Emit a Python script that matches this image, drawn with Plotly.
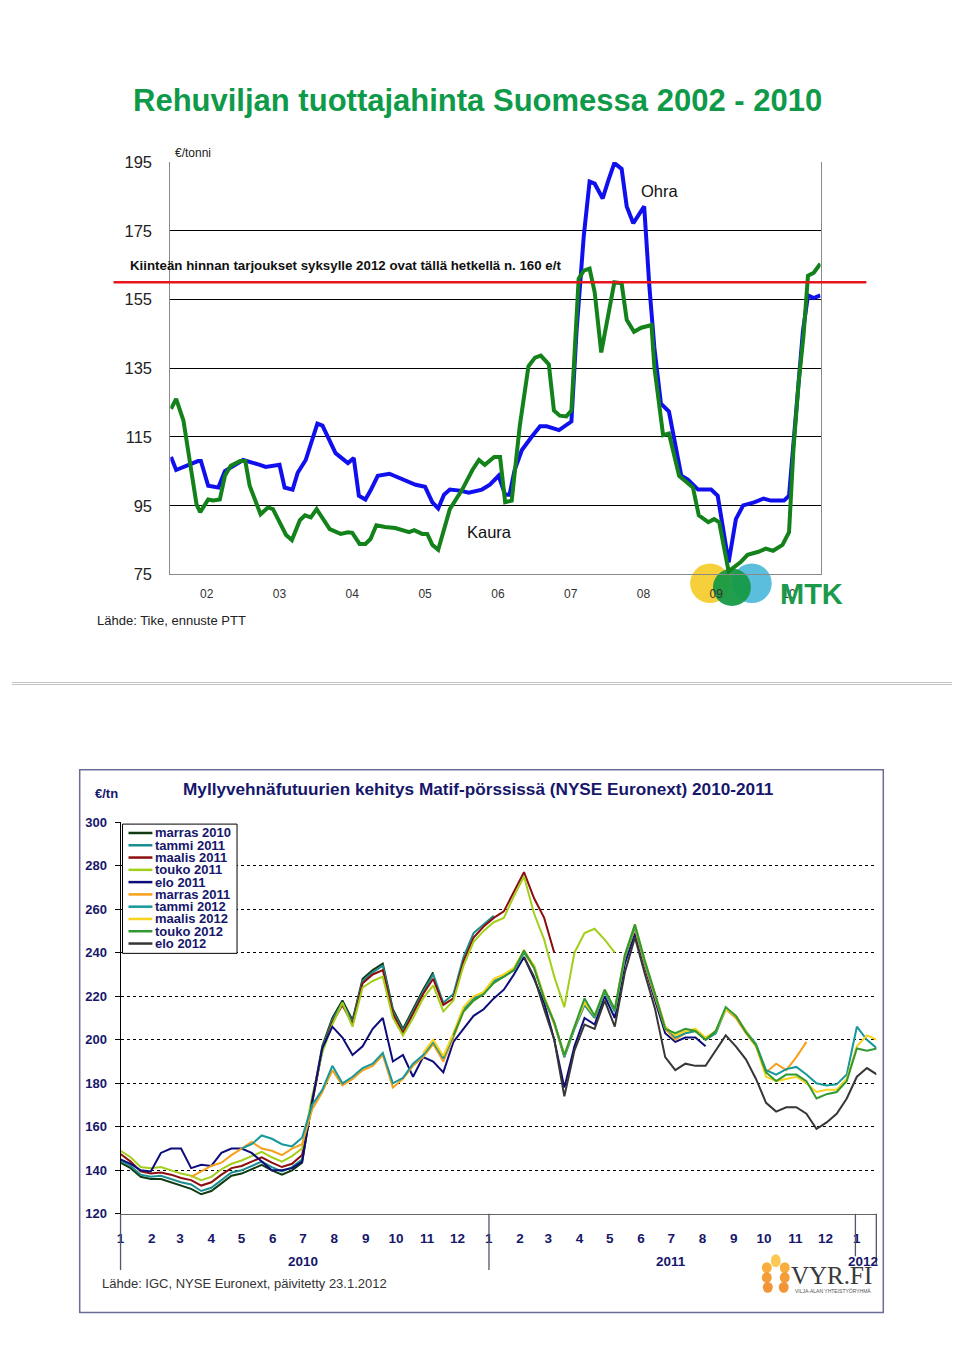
import pandas as pd
import plotly.graph_objects as go

# The page keeps the browser's default 8px body margin, so the figure is
# 16px smaller than the window and every reference pixel is shifted by 8.
PAGE_MARGIN = 8
W, H = 960 - 2 * PAGE_MARGIN, 1367 - 2 * PAGE_MARGIN


def fx(p):
    return (p - PAGE_MARGIN) / W


def fy(p):
    return 1 - (p - PAGE_MARGIN) / H


# ---------------- Chart 1: Rehuviljan tuottajahinta (€/t) ----------------
ohra_year = [2002.01, 2002.08, 2002.38, 2002.42, 2002.52, 2002.66, 2002.75, 2003.00, 2003.23, 2003.31,
             2003.50, 2003.57, 2003.68, 2003.75, 2003.86, 2004.02, 2004.09, 2004.27, 2004.44, 2004.52,
             2004.59, 2004.68, 2004.75, 2004.85, 2005.01, 2005.19, 2005.37, 2005.50, 2005.60, 2005.68,
             2005.76, 2005.84, 2005.98, 2006.10, 2006.28, 2006.39, 2006.51, 2006.60, 2006.66, 2006.73,
             2006.83, 2006.97, 2007.08, 2007.17, 2007.34, 2007.51, 2007.58, 2007.68, 2007.76, 2007.83,
             2007.94, 2008.02, 2008.10, 2008.20, 2008.27, 2008.36, 2008.51, 2008.58, 2008.65, 2008.74,
             2008.85, 2009.02, 2009.11, 2009.25, 2009.43, 2009.52, 2009.67, 2009.77, 2009.87, 2010.02,
             2010.15, 2010.25, 2010.43, 2010.50, 2010.56, 2010.66, 2010.69, 2010.76, 2010.84, 2010.93]
ohra_price = [109.2, 105.4, 108, 108, 100.8, 100.3, 105.1, 108.3, 106.9, 106.3,
              106.9, 100.3, 99.7, 104.6, 108.3, 118.9, 118.3, 110.3, 107.4, 108.9,
              97.9, 96.8, 99.4, 103.7, 104.3, 102.6, 101.1, 100.5, 96.0, 94.2,
              98.2, 99.7, 99.4, 98.8, 99.7, 101.1, 103.7, 98.2, 98.2, 105.4,
              111.2, 115.2, 118.1, 118.1, 117.0, 119.5, 145.6, 173.5, 189.3, 188.7,
              184.4, 189.8, 194.7, 193.0, 182.1, 177.2, 182.1, 159.1, 141, 124.7,
              122.4, 103.7, 102.6, 99.7, 99.7, 97.9, 78.5, 91.1, 95.1, 96.0,
              97.1, 96.5, 96.5, 97.9, 112.3, 135.3, 145.6, 156.2, 155.4, 156.2]

kaura_year = [2002.01, 2002.08, 2002.18, 2002.36, 2002.41, 2002.52, 2002.59, 2002.68, 2002.75, 2002.83,
              2002.96, 2003.03, 2003.09, 2003.24, 2003.34, 2003.41, 2003.59, 2003.67, 2003.78, 2003.85,
              2003.93, 2004.01, 2004.19, 2004.34, 2004.44, 2004.50, 2004.60, 2004.68, 2004.75, 2004.83,
              2004.95, 2005.09, 2005.28, 2005.35, 2005.46, 2005.53, 2005.60, 2005.68, 2005.84, 2005.91,
              2006.01, 2006.15, 2006.24, 2006.32, 2006.45, 2006.53, 2006.60, 2006.69, 2006.80, 2006.92,
              2007.01, 2007.09, 2007.20, 2007.27, 2007.35, 2007.44, 2007.51, 2007.61, 2007.68, 2007.76,
              2007.83, 2007.92, 2008.10, 2008.20, 2008.27, 2008.37, 2008.47, 2008.61, 2008.65, 2008.77,
              2008.85, 2008.99, 2009.18, 2009.26, 2009.39, 2009.47, 2009.54, 2009.67, 2009.84, 2009.93,
              2010.08, 2010.18, 2010.28, 2010.41, 2010.50, 2010.56, 2010.63, 2010.70, 2010.76, 2010.84,
              2010.93]
kaura_price = [123.2, 126.1, 119.8, 95.4, 93.1, 96.8, 96.5, 96.8, 103.7, 106.6,
               108, 108, 100.8, 92.5, 94.5, 94, 86.5, 85.0, 90.8, 92.2,
               91.6, 94, 88.2, 86.8, 87.3, 87.1, 83.9, 83.9, 85.3, 89.3,
               88.8, 88.5, 87.3, 87.9, 86.8, 86.8, 83.6, 82.2, 94, 96.5,
               99.7, 105.4, 108.3, 106.9, 109.2, 109.2, 96, 96.5, 118.1, 135.6,
               138.1, 138.7, 136.1, 122.7, 121.2, 121, 122.7, 161.1, 163.4, 164,
               157.1, 139.6, 160, 159.7, 149.1, 145.6, 146.8, 147.6, 135.3, 115.5,
               116, 103.7, 100.3, 92.2, 90.2, 91.1, 90.2, 75.9, 78.7, 80.7,
               81.6, 82.5, 81.9, 83.6, 87.3, 111.2, 130.4, 144.8, 161.9, 162.8,
               165.4]

year_ticks = [2002.5, 2003.5, 2004.5, 2005.5, 2006.5, 2007.5, 2008.5, 2009.5, 2010.5]
year_labels = ["02", "03", "04", "05", "06", "07", "08", "09", "10"]
price_ticks1 = [75, 95, 115, 135, 155, 175, 195]
offer_level = 160

# ---------------- Chart 2: Matif milling wheat futures (€/tn) ----------------
days = [0, 10, 20, 30, 40, 50, 60, 70, 80, 90, 100, 110, 120, 130, 140, 150, 160, 170, 180, 190,
        200, 210, 220, 230, 240, 250, 260, 270, 280, 290, 300, 310, 320, 330, 340, 350, 360, 370, 380, 390,
        400, 410, 420, 430, 440, 450, 460, 470, 480, 490, 500, 510, 520, 530, 540, 550, 560, 570, 580, 590,
        600, 610, 620, 630, 640, 650, 660, 670, 680, 690, 700, 710, 720, 730, 740, 750]

marras_2010 = [143.5, 141, 137, 136, 136, 134.5, 133, 131.5, 129, 130.5, 134, 137.5, 138.5, 140.5, 142.5, 140,
               138, 140, 143.5, 172, 197, 210, 218, 209, 228, 232, 235, 214, 205, 214, 223, 231]
tammi_2011 = [144.5, 142, 138, 137, 137.5, 136, 134.5, 133.5, 130.5, 132, 135.5, 139, 140, 142, 144, 141.5,
              139.5, 141.5, 145, 171, 196, 209, 217, 208, 227, 231, 234, 213, 204, 213, 222, 230, 217, 221,
              238, 249, 253, 257]
maalis_2011 = [147.5, 144, 139.5, 138.5, 139, 138, 136.5, 135.5, 133, 134.5, 138, 141, 142, 144, 146, 143.5,
               141.5, 143, 147, 171, 195, 208, 216, 207, 226, 230, 232, 212, 203, 212, 221, 228, 216, 219,
               236, 247, 252, 256, 259, 268, 277, 265, 256, 240]
touko_2011 = [149, 146, 141.5, 141, 141.5, 140, 138.5, 137.5, 135.5, 137, 140.5, 143, 144.5, 146.5, 148.5, 146,
              144, 146.5, 150, 174, 194, 207, 217, 206, 224, 227, 229, 210, 202, 210, 219, 225, 213, 218,
              234, 245, 250, 254, 256, 266, 275, 258, 246, 229, 215, 240, 249, 251, 246, 240]
elo_2011 = [145, 143, 140, 139.5, 148, 150, 150, 141, 142.5, 142, 148, 150, 150, 148, 144, 140,
            140, 141, 144, 172, 196, 206, 201, 193, 197, 205, 210, 190, 193, 183, 192, 190, 185, 199,
            205, 211, 214, 219, 223, 230, 238, 228, 217, 200, 178, 197, 210, 207, 220, 210, 235, 249,
            233, 218, 203, 199, 201, 201, 197]
marras_2011 = [137, 139.5, 142, 143.5, 147, 150, 153, 150, 149, 147, 150, 152,
               168, 176, 186, 179, 182, 186, 188, 193, 178, 182, 188, 192, 198, 190, 201, 213, 218, 221,
               227, 229, 232, 240, 233, 219, 207, 192, 205, 216, 210, 222, 213, 238, 251, 234, 219, 205,
               200, 203, 204, 200, 203, 214, 210, 203, 197, 185, 189, 186, 192, 199]
tammi_2012 = [150, 152, 156, 154.5, 152, 151, 155,
              170, 177, 188, 180, 183, 187, 189, 194, 180, 182.5, 189, 193, 199, 191.5, 202, 214, 219,
              221, 227, 229, 232, 240, 234, 219, 208, 192, 205, 216, 210, 222, 213, 238, 252, 235, 220,
              206, 201, 203, 204, 200, 203, 214, 211, 204, 198, 186, 184, 186.5, 187.5, 184, 180, 179,
              179.5, 184, 206, 200, 196]
maalis_2012 = [194, 200, 192.5, 203, 215, 220, 222, 228, 230, 233, 241, 234, 220, 208, 193, 206, 217,
               211, 223, 214, 239, 253, 236, 221, 206, 202, 204, 205, 201, 204, 214, 211, 204, 197, 183,
               181, 182, 183, 180, 176, 177, 177, 182, 197, 202, 200]
touko_2012 = [202, 213, 218, 221, 226, 229, 232, 241, 233, 219, 208, 193, 206, 219, 211, 223, 214, 239,
              253, 236, 221, 205, 203, 205, 204, 200, 204, 215, 211, 203.5, 197.5, 185, 181, 184, 184,
              181, 173, 175, 176, 181, 196, 195, 196]
elo_2012 = [238, 229, 214, 200, 174, 195, 207, 205, 218, 206, 231, 247, 230, 214, 192, 186, 189, 188,
            188, 195, 202, 197, 191, 182, 171, 167, 169, 169, 166, 159, 162, 166, 173, 183, 187, 184]

contract_names = ["marras 2010", "tammi 2011", "maalis 2011", "touko 2011", "elo 2011",
                  "marras 2011", "tammi 2012", "maalis 2012", "touko 2012", "elo 2012"]
contract_colors = ["#0f3a12", "#1b8e90", "#8b0d0d", "#a2cf1a", "#0c0c7a",
                   "#f7a01c", "#17989a", "#f8d21c", "#2f9a2f", "#363636"]
contract_start = [0, 0, 0, 0, 0, 70, 120, 300, 330, 400]
contract_values = [marras_2010, tammi_2011, maalis_2011, touko_2011, elo_2011,
                   marras_2011, tammi_2012, maalis_2012, touko_2012, elo_2012]
price_ticks2 = [120, 140, 160, 180, 200, 220, 240, 260, 280, 300]

base_date = pd.Timestamp("2010-01-01")
month_ticks = pd.date_range("2010-01-01", "2012-01-01", freq="MS")
month_labels = [str(m.month) for m in month_ticks]

NAVY = "#16166b"
FONT = "Arial, Liberation Sans, sans-serif"

fig = go.Figure()

fig.add_trace(go.Scatter(x=ohra_year, y=ohra_price, mode="lines", name="Ohra",
                         line=dict(color="#1010ee", width=4), xaxis="x", yaxis="y",
                         showlegend=False))
fig.add_trace(go.Scatter(x=kaura_year, y=kaura_price, mode="lines", name="Kaura",
                         line=dict(color="#13821a", width=4), xaxis="x", yaxis="y",
                         showlegend=False))

for name, color, start, vals in zip(contract_names, contract_colors, contract_start, contract_values):
    i0 = days.index(start)
    dsel = days[i0:i0 + len(vals)]
    xs = [base_date + pd.Timedelta(days=d) for d in dsel]
    fig.add_trace(go.Scatter(x=xs, y=vals, mode="lines", name=name,
                             line=dict(color=color, width=2), xaxis="x2", yaxis="y2",
                             showlegend=False))

shapes = []
annotations = []

# slide separator
for ysep in (682.5, 684.5):
    shapes.append(dict(type="line", xref="paper", yref="paper", x0=0, x1=1, y0=fy(ysep), y1=fy(ysep),
                       line=dict(color="#c4c4c4", width=1), layer="below"))

# red offer line
shapes.append(dict(type="line", xref="paper", yref="y", x0=fx(110), x1=fx(866), y0=offer_level, y1=offer_level,
                   line=dict(color="#e5161c", width=2.5), layer="above"))

# MTK logo circles
shapes.append(dict(type="circle", xref="paper", yref="paper", x0=fx(689), x1=fx(729), y0=fy(562), y1=fy(602),
                   fillcolor="#f5c818", line=dict(width=0), opacity=0.85, layer="below"))
shapes.append(dict(type="circle", xref="paper", yref="paper", x0=fx(731), x1=fx(771), y0=fy(562), y1=fy(602),
                   fillcolor="#3db3d6", line=dict(width=0), opacity=0.85, layer="below"))
shapes.append(dict(type="circle", xref="paper", yref="paper", x0=fx(712), x1=fx(750), y0=fy(567), y1=fy(605),
                   fillcolor="#169a45", line=dict(width=0), opacity=0.95, layer="below"))

# chart 2 outer frame
shapes.append(dict(type="rect", xref="paper", yref="paper", x0=fx(76), x1=fx(883), y0=fy(771), y1=fy(1321),
                   line=dict(color="#6c6c98", width=1.5), layer="below"))

# year separators chart 2
for xpix, ybot in [(117, 1278), (487, 1278), (855, 1264), (876, 1272)]:
    shapes.append(dict(type="line", xref="paper", yref="paper", x0=fx(xpix), x1=fx(xpix),
                       y0=fy(1221), y1=fy(ybot), line=dict(color="#555566", width=1.3)))

# legend box chart 2
shapes.append(dict(type="rect", xref="paper", yref="paper", x0=fx(119), x1=fx(234), y0=fy(826), y1=fy(957),
                   line=dict(color="#000000", width=1), fillcolor="white", layer="above"))
for i, (name, color) in enumerate(zip(contract_names, contract_colors)):
    yc = 835 + 12.45 * i
    shapes.append(dict(type="line", xref="paper", yref="paper", x0=fx(125), x1=fx(149), y0=fy(yc), y1=fy(yc),
                       line=dict(color=color, width=2.5), layer="above"))
    annotations.append(dict(x=fx(150), y=fy(yc), xanchor="left", text="<b>" + name + "</b>",
                            font=dict(family=FONT, size=13, color=NAVY)))

# VYR wheat icon
grain = [(770, 780, 1262, 1275, "#f9c240"), (761, 771, 1270, 1281, "#f7a42a"), (779, 789, 1270, 1281, "#f7a42a"),
         (761, 771, 1280, 1291, "#f39325"), (779, 789, 1280, 1291, "#f39325"), (762, 772, 1290, 1301, "#f08a20"),
         (778, 788, 1290, 1301, "#f08a20")]
for x0, x1, y0, y1, c in grain:
    shapes.append(dict(type="circle", xref="paper", yref="paper", x0=fx(x0), x1=fx(x1), y0=fy(y0), y1=fy(y1),
                       fillcolor=c, line=dict(width=0), opacity=0.9))

# text
annotations += [
    dict(x=fx(475), y=fy(93), text="<b>Rehuviljan tuottajahinta Suomessa 2002 - 2010</b>",
         font=dict(family=FONT, size=31, color="#0f9a4a")),
    dict(x=fx(170), y=fy(146), xanchor="left", text="€/tonni", font=dict(family=FONT, size=12, color="#222")),
    dict(x=fx(124), y=fy(260), xanchor="left",
         text="<b>Kiinteän hinnan tarjoukset syksylle 2012 ovat tällä hetkellä n. 160 e/t</b>",
         font=dict(family=FONT, size=13.3, color="#111")),
    dict(x=fx(638), y=fy(184), xanchor="left", text="Ohra", font=dict(family=FONT, size=16.5, color="#111")),
    dict(x=fx(463), y=fy(530), xanchor="left", text="Kaura", font=dict(family=FONT, size=16.5, color="#111")),
    dict(x=fx(91), y=fy(620), xanchor="left", text="Lähde: Tike, ennuste PTT",
         font=dict(family=FONT, size=13, color="#222")),
    dict(x=fx(777), y=fy(593), xanchor="left", text="<b>MTK</b>",
         font=dict(family=FONT, size=29, color="#1b9a4b")),
    dict(x=fx(476), y=fy(790), text="<b>Myllyvehnäfutuurien kehitys Matif-pörssissä (NYSE Euronext) 2010-2011</b>",
         font=dict(family=FONT, size=17.2, color=NAVY)),
    dict(x=fx(89), y=fy(795), xanchor="left", text="<b>€/tn</b>", font=dict(family=FONT, size=13, color=NAVY)),
    dict(x=fx(300), y=fy(1269), text="<b>2010</b>", font=dict(family=FONT, size=13.5, color=NAVY)),
    dict(x=fx(670), y=fy(1269), text="<b>2011</b>", font=dict(family=FONT, size=13.5, color=NAVY)),
    dict(x=fx(863), y=fy(1269), text="<b>2012</b>", font=dict(family=FONT, size=13.5, color=NAVY)),
    dict(x=fx(96), y=fy(1292), xanchor="left", text="Lähde: IGC, NYSE Euronext, päivitetty 23.1.2012",
         font=dict(family=FONT, size=13, color="#333")),
    dict(x=fx(831), y=fy(1284), text="VYR.FI",
         font=dict(family="Liberation Serif, DejaVu Serif, serif", size=25, color="#3a3a3a")),
    dict(x=fx(832), y=fy(1299), text="VILJA-ALAN YHTEISTYÖRYHMÄ",
         font=dict(family=FONT, size=5, color="#555")),
]
for a in annotations:
    a.setdefault("xref", "paper")
    a.setdefault("yref", "paper")
    a.setdefault("showarrow", False)
    a.setdefault("xanchor", "center")
    a.setdefault("yanchor", "middle")

fig.update_layout(
    width=W, height=H, autosize=False,
    margin=dict(l=0, r=0, t=0, b=0),
    paper_bgcolor="white", plot_bgcolor="rgba(0,0,0,0)",
    font=dict(family=FONT),
    showlegend=False,
    xaxis=dict(domain=[fx(167), fx(820)], range=[2002.0, 2010.933], anchor="y",
               tickvals=year_ticks, ticktext=year_labels, showgrid=False, zeroline=False,
               showline=True, linecolor="#8a8a8a", linewidth=1, ticks="",
               ticklabelstandoff=8, tickfont=dict(family=FONT, size=12, color="#333")),
    yaxis=dict(domain=[fy(573), fy(155)], range=[75, 195], anchor="x",
               tickvals=price_ticks1, showgrid=True, gridcolor="#000", gridwidth=1, zeroline=False,
               showline=True, linecolor="#8a8a8a", linewidth=1, mirror=True, ticks="",
               ticklabelstandoff=14, tickfont=dict(family=FONT, size=16.5, color="#222")),
    xaxis2=dict(domain=[fx(117), fx(876)], type="date", anchor="y2",
                range=[base_date, base_date + pd.Timedelta(days=749.3)],
                tickvals=list(month_ticks), ticktext=month_labels, showgrid=False, zeroline=False,
                showline=True, linecolor="#666", linewidth=1.3, ticks="", ticklabelstandoff=12,
                tickfont=dict(family=FONT, size=13.5, color=NAVY, weight="bold")),
    yaxis2=dict(domain=[fy(1221), fy(824)], range=[120, 300], anchor="x2",
                tickvals=price_ticks2, showgrid=True, gridcolor="#000", gridwidth=1, griddash="dot",
                zeroline=False, showline=True, linecolor="#000", linewidth=1,
                ticks="outside", ticklen=5, tickcolor="#000", ticklabelstandoff=5,
                tickfont=dict(family=FONT, size=13, color=NAVY, weight="bold")),
    shapes=shapes,
    annotations=annotations,
)

fig.write_html("out.html")
